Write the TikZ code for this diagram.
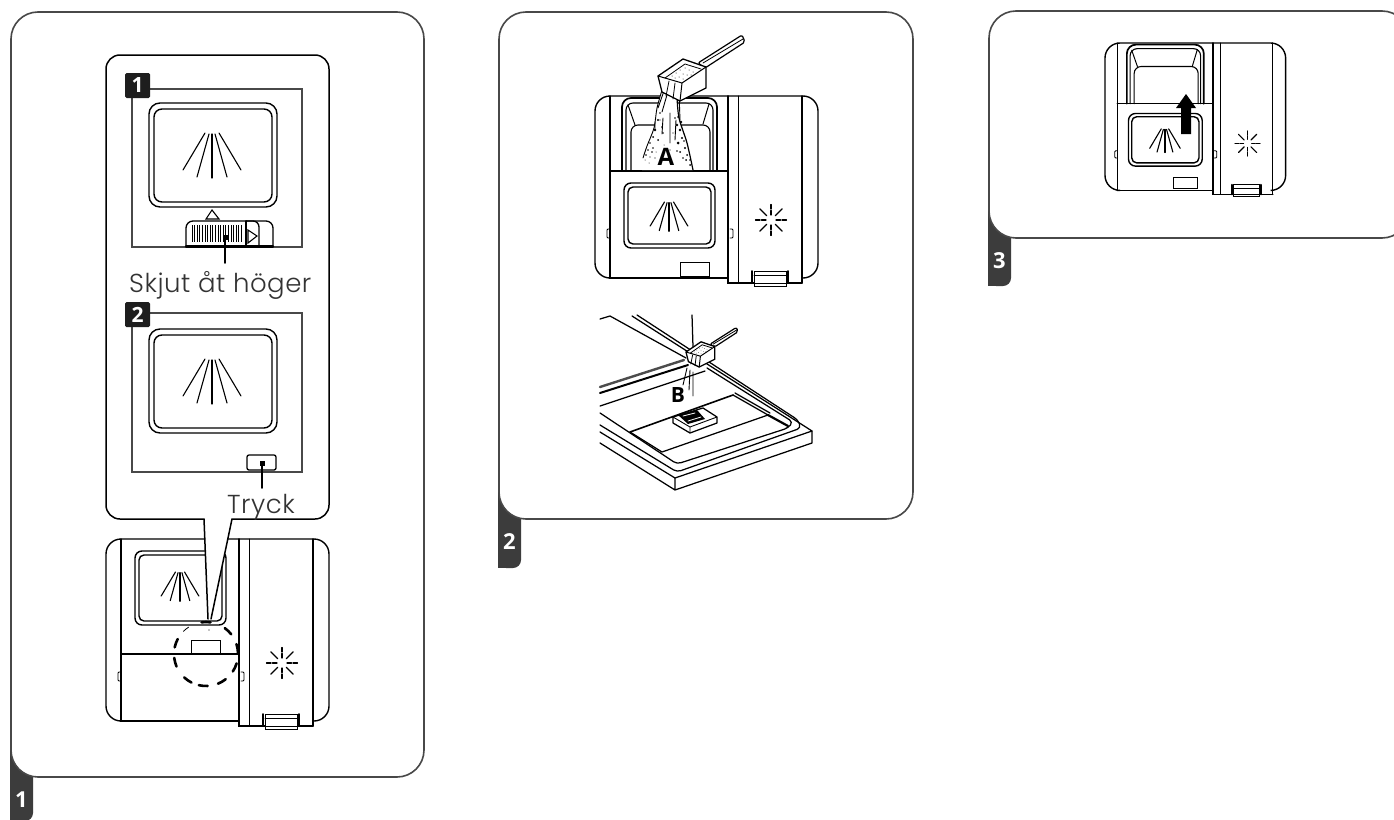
\documentclass[tikz,border=0pt]{standalone}
\usepackage{fontspec}
\setmainfont{Open Sans}
\newfontfamily\labelfont[LetterSpace=2]{Poppins Light}
\definecolor{tabgray}{HTML}{3C3C3C}
\definecolor{badgeblack}{HTML}{1E1E1E}
\definecolor{panelline}{HTML}{484848}
\tikzset{
	every pic/.style={transform shape},
	pics/spray/.style={code={
		\foreach \a/\b/\c/\d in {-7/0/-29/37,-3/1/-15/44,0/1/0/45,3/1/15/44,7/0/29/37}{
			\draw[line width=1.1pt] (\a,\b)--(\c,\d);
		}
	}},
	pics/flash/.style={code={
		\foreach \a in {45,135,225,315}{
			\draw[line width=1.1pt] (\a:6)--(\a:16);
		}
		\foreach \a in {0,90,180,270}{
			\draw[line width=1.1pt] (\a:5)--(\a:9.5) (\a:11)--(\a:15.5);
		}
	}},
	pics/bigwindow/.style={code={
		\draw[line width=1.4pt, rounded corners=11pt] (0,0) rectangle (128,104);
		\draw[line width=1.4pt, rounded corners=8pt] (5,6) rectangle (123,99);
		\pic at (63,30) {spray};
	}},
	% common body
	pics/body/.style={code={
		\draw[line width=1.4pt, rounded corners=15pt, fill=white] (15,182)--(0,182)--(0,0)--(223,0)--(223,182)--(207,182);
		\draw[line width=1.3pt] (15,0)--(15,182)--(133,182);
		\draw[line width=1.8pt] (133,0)--(133,187)--(207,187);
		\draw[line width=1.4pt] (207,187)--(207,0);
		\draw[line width=1pt] (143,0)--(143,187);
		\draw[line width=0.9pt, rounded corners=1pt] (15,133)--(12,133)--(12,142)--(15,142);
		\draw[line width=0.9pt, rounded corners=1pt] (135,133)--(138,133)--(138,142)--(135,142);
		\pic at (176,124) {flash};
		% latch
		\draw[line width=1pt, fill=white] (159,175) rectangle (191,190);
		\draw[line width=0.9pt] (159,179)--(191,179) (159,187)--(191,187);
		\draw[line width=2pt] (157,175)--(157,187) (193,175)--(193,187);
	}},
	% door shut
	pics/closedbox/.style={code={
		\pic {body};
		\draw[line width=1.3pt] (15,115)--(133,115);
		\draw[line width=1.4pt, rounded corners=7pt] (29,12) rectangle (120,86);
		\draw[line width=1.4pt, rounded corners=5pt] (33,16) rectangle (116,82);
		\draw[line width=1pt] (85,115)--(85,101)--(114,101)--(114,115);
		\pic[scale=0.65] at (74,33) {spray};
	}},
	% door open
	pics/openbox/.style={code={
		\pic {body};
		\draw[line width=1.7pt, rounded corners=9pt] (27,75)--(27,2)--(122,2)--(122,75);
		\draw[line width=1.1pt, rounded corners=7pt] (31,75)--(31,7)--(118,7)--(118,75);
		\draw[line width=1pt] (33,9)--(40,29) (114,8)--(108,28);
		\draw[line width=1.1pt, rounded corners=7pt] (36,75)--(36,29)--(115,29)--(115,75);
		\draw[line width=1.3pt] (15,75)--(133,75);
		\draw[line width=1.4pt, rounded corners=7pt] (29,87) rectangle (120,152);
		\draw[line width=1.4pt, rounded corners=5pt] (33,91) rectangle (116,148);
		\draw[line width=1pt] (85,166) rectangle (114,180);
		\pic[scale=0.65] at (74,106) {spray};
	}},
	pics/scoop/.style={code={
		\draw[line width=1.2pt, fill=white, line join=round, rounded corners=2pt] (40,-13)--(84,-41)--(87,-34)--(47,-8)--cycle;
		\draw[line width=0.8pt] (45,-13)--(85,-37);
		\draw[line width=1.3pt, fill=white, line join=round] (0,0)--(25,-17)--(48,-9)--(48,12)--(22,25)--(4,16)--cycle;
		\draw[line width=1pt] (0,0)--(24,7)--(48,-9) (24,7)--(22,25);
		\draw[line width=0.8pt] (7,2)--(27,-12)--(43,-7);
		\draw[line width=0.8pt] (11,5)--(8,20) (17,7)--(15,23);
		\foreach \a/\b in {14/0,18/-3,22/-6,27/-8,31/-6,35/-4,25/-2,29/-1,21/1,25/3,33/-1,17/2}{
			\fill (\a,\b) circle (0.5);
		}
	}}
}
\begin{document}
\begin{tikzpicture}[x=1pt, y=-1pt, line cap=round,
		panel/.style={draw=panelline, line width=1.6pt, fill=white, rounded corners=27pt},
		tabbar/.style={fill=tabgray, rounded corners=8pt},
		tabnum/.style={text=white, font=\fontsize{22}{22}\selectfont\bfseries, inner sep=0pt},
		badge/.style={fill=badgeblack, text=white, rounded corners=1.5pt, minimum size=25pt, inner sep=0pt, font=\fontsize{21}{21}\selectfont\bfseries},
		frameline/.style={draw=panelline, line width=1.3pt},
		leader/.style={line width=1.8pt},
		leaderdot/.style={fill=black, inner sep=0pt, minimum size=5pt},
		steplabel/.style={anchor=base west, inner sep=0pt, text=black!80, font=\fontsize{26}{26}\selectfont\labelfont},
		letter/.style={inner sep=0pt, font=\fontsize{24}{24}\selectfont\bfseries},
		thinline/.style={line width=0.9pt},
		doorline/.style={line width=1.25pt, line join=round}]
	\clip (0,0) rectangle (1394,819);
	\fill[white] (0,0) rectangle (1394,819);
	% panels and tabs
	\foreach \nr/\xl/\yt/\xr/\yb/\ye in {1/11/12/424/777/821, 2/499/12/913/519/568, 3/989/11/1409/238/286}{
		\fill[tabbar] (\xl-0.8,\yb-27)--(\xl+22,\yb-27)--(\xl+22,\ye)--(\xl-0.8,\ye)[sharp corners]--cycle;
		\fill[tabgray] (\xl-0.8,\ye-12) rectangle (\xl+10,\ye);
		\fill[tabgray] (\xl-0.8,\yb-27) rectangle (\xl+22,\yb-15);
		\node[tabnum] (tab\nr) at (\xl+10.5,\yb+23) {\nr};
		\draw[panel] (\xl,\yt) rectangle (\xr,\yb);
	}
	% panel 1: shut box and callout
	\pic at (106,539) {closedbox};
	\draw[draw=black, line width=1.5pt, fill=white] (208,619)--(204,519)[rounded corners=14pt]--(106,519)--(106,55)--(329,55)--(329,519)[sharp corners]--(232,519)--(211,619);
	\coordinate (ringc) at (206,654);
	\foreach \a in {-90,-46,-10,25,60,95,125,165,200}{
		\draw[line width=2.6pt] ([shift={(\a-8:32)}]ringc) arc[start angle=\a-8, delta angle=16, radius=32];
	}
	\draw[line width=0.8pt] ([shift={(-135:32)}]ringc) arc[start angle=-135, delta angle=12, radius=32];
	\fill (209,630) circle (0.7);
	% inset 1
	\draw[frameline] (132,89) rectangle (302,247);
	\node[badge] (badgeone) at (137.5,85.5) {1};
	\pic at (149,103) {bigwindow};
	\draw[line width=1.1pt] (212,210)--(206,219)--(219,219)--cycle;
	\draw[line width=1.3pt, fill=white, rounded corners=7pt] (186,246)--(186,221)--(273,221)--(273,246);
	\draw[line width=1.3pt, rounded corners=6pt] (246,221)--(259,221)--(259,246);
	\draw[line width=1.3pt] (246,221)--(246,246);
	\draw[line width=2.4pt] (186,246.5)--(273,246.5);
	\foreach \x in {192,194.6,...,243}{
		\draw[line width=0.9pt, line cap=butt] (\x,225)--(\x,242);
	}
	\draw[line width=1.1pt] (248,230)--(257,236)--(248,243)--cycle;
	\node[leaderdot] (slidedot) at (225,237) {};
	\coordinate (slideend) at (225,263);
	\draw[leader] (slidedot)--(slideend);
	\node[steplabel] (slidetext) at (129,292) {Skjut åt höger};
	% inset 2
	\draw[frameline] (132,313) rectangle (302,472);
	\node[badge] (badgetwo) at (137.5,314.5) {2};
	\pic at (149,329) {bigwindow};
	\draw[line width=1.3pt, fill=white, rounded corners=2pt] (247,455) rectangle (276,470);
	\node[leaderdot] (pushdot) at (262,463) {};
	\coordinate (pushend) at (262,488);
	\draw[leader] (pushdot)--(pushend);
	\node[steplabel] (pushtext) at (227,513) {Tryck};
	% panel 2, top
	\pic at (595,96) {openbox};
	\fill[white] plot[smooth] coordinates {(662,90) (657,108) (654,128) (643,153) (642,170)} -- (693,170) -- plot[smooth] coordinates {(693,170) (688,145) (680,120) (677,97)} -- cycle;
	\draw[thinline] plot[smooth] coordinates {(662,90) (657,108) (654,128) (647,146) (643,158)};
	\draw[line width=1.2pt] plot[smooth] coordinates {(677,97) (679,118) (687,143) (693,170)};
	\draw[thinline] (669,88)--(662,112) (665,88)--(658,108) (670,113)--(670,143) (679,92)--(680,120) (655,130)--(655,122) (663,118)--(662,134) (676,120)--(675,140);
	\foreach \a/\b/\r in {655/130/1.4,653/137/1,650/143/.9,648/150/.8,646/155/.8,653/148/.8,658/120/1.1,660/113/.9,662/127/1,663/133/.8,658/140/1,650/157/.6,655/158/.6,652/152/.8,677/125/1.4,680/130/1.4,682/138/1.1,678/143/1.5,685/148/1.2,680/152/1,687/155/1,690/160/.9,683/158/.8,673/133/.6,675/118/.9,678/117/1,670/150/.6,681/122/1.3,684/141/.9,686/160/1,690/165/1,677/151/.8,660/120/.7,664/145/.5,649/163/.5,645/160/.5,656/152/.5}{
		\fill (\a,\b) circle (\r);
	}
	\pic at (658,76) {scoop};
	\node[letter] (lettera) at (666,157) {A};
	% panel 2, bottom: the door
	\draw[doorline] (600,432)--(675,478)--(812,431)--(632,316);
	\draw[doorline] (600,443)--(675,490)--(812,443)--(812,431) (675,478)--(675,490);
	\draw[doorline, rounded corners=4pt] (637,315)--(798,420)--(801,428)--(677,472)--(600,425);
	\draw[doorline, rounded corners=4pt] (707,368)--(793,422)--(788,428)--(677,464)--(600,413);
	\draw[doorline] (600,319)--(610,316)--(686,358);
	\draw[doorline] (600,406)--(705,371);
	\draw[line width=2.4pt, black!70] (600,387)--(684,360);
	\draw[line width=2pt] (600,393)--(688,365);
	\draw[line width=1.6pt] (630,432)--(733,395);
	\draw[doorline] (733,395)--(768,415) (735,393)--(770,413) (662,452)--(768,415) (630,432)--(662,452);
	\draw[line width=2.2pt] (768,415)--(788,426);
	\draw[doorline] (692,315)--(693,347);
	% small box on the door
	\draw[doorline, fill=white] (673,417)--(703,408)--(717,417)--(717,423)--(690,433)--(673,423)--cycle;
	\draw[thinline] (673,417)--(690,427)--(717,417) (690,427)--(690,433);
	\fill (678,415)--(697,410)--(705,419)--(688,424)--cycle;
	\draw[white, line width=0.8pt] (683,416)--(695,413) (688,421)--(701,417);
	\draw[thinline] (687,368)--(683,385) (690,370)--(689,390) (693,372)--(693,396);
	\pic[scale=0.6] at (686,352) {scoop};
	\node[letter, font=\fontsize{21}{21}\selectfont\bfseries] (letterb) at (678,395) {B};
	% panel 3
	\pic[scale=0.81] at (1105,43) {openbox};
	\fill (1186,94)--(1196,108)--(1191,108)--(1191,134)--(1181,134)--(1181,108)--(1176,108)--cycle;
\end{tikzpicture}
\end{document}
